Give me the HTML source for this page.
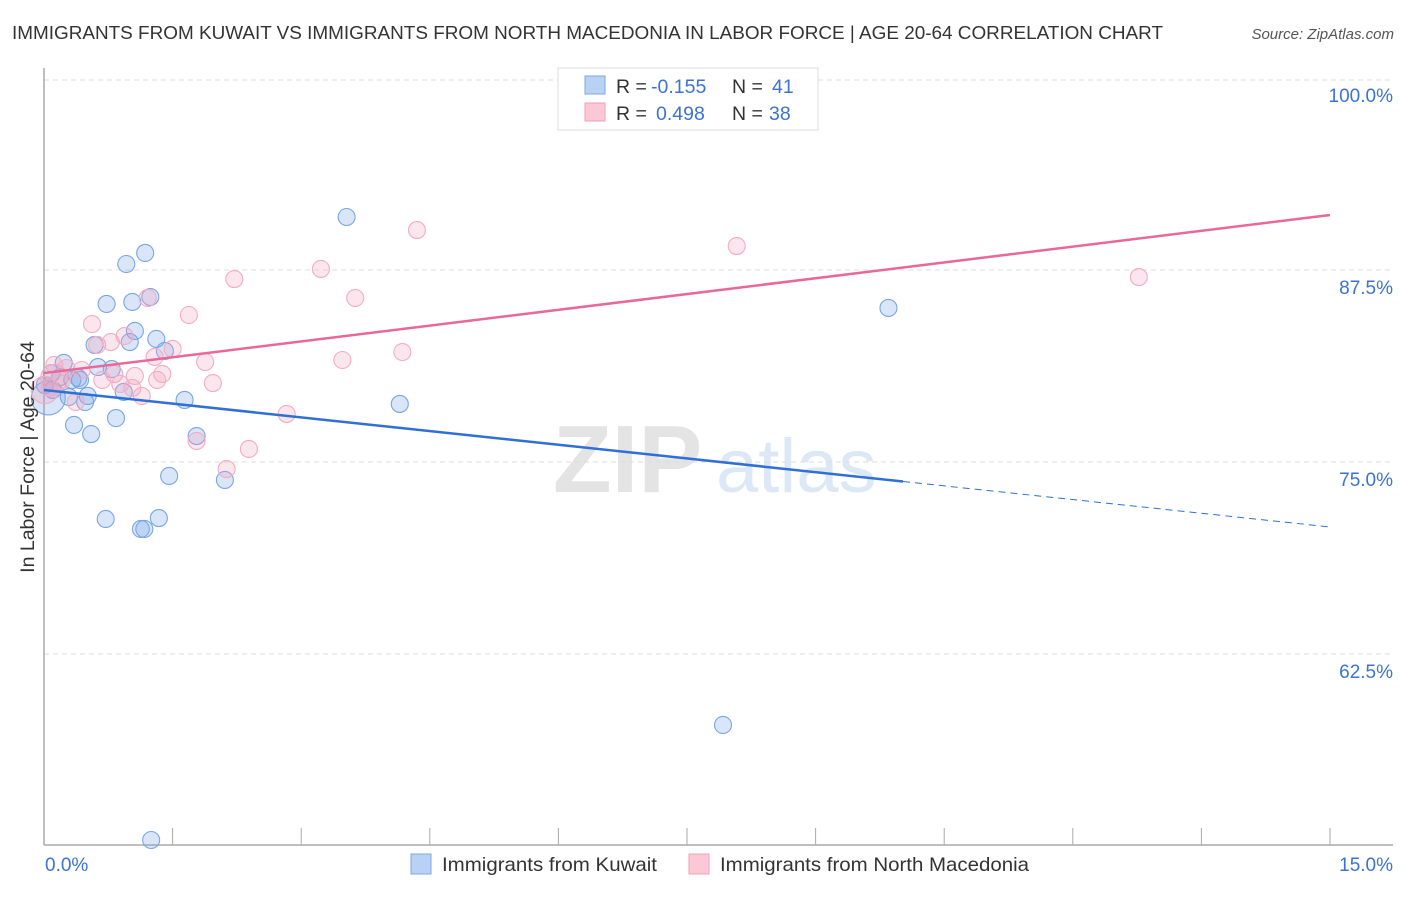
<!DOCTYPE html>
<html><head><meta charset="utf-8"><style>
body{margin:0;background:#fff;font-family:"Liberation Sans",sans-serif}
svg text{font-family:"Liberation Sans",sans-serif}
</style></head><body>
<svg id="chart" width="1406" height="892" viewBox="0 0 1406 892" xmlns="http://www.w3.org/2000/svg">
<text x="12" y="39" font-size="18.9" fill="#333" textLength="1151" lengthAdjust="spacingAndGlyphs">IMMIGRANTS FROM KUWAIT VS IMMIGRANTS FROM NORTH MACEDONIA IN LABOR FORCE | AGE 20-64 CORRELATION CHART</text>
<text x="1394" y="39" font-size="15" fill="#555" text-anchor="end" font-style="italic">Source: ZipAtlas.com</text>
<g>
<text x="553" y="492" font-size="96" fill="#e4e4e4" font-family="Liberation Serif" font-weight="bold">ZIP</text>
<text x="716" y="492" font-size="76" fill="#dce8f6">atlas</text>
</g>
<g id="grid"></g>
<g id="axes"></g>
<g id="pts"></g>
<g id="lines"></g>
<text transform="translate(34,457) rotate(-90)" font-size="19.5" fill="#333" text-anchor="middle">In Labor Force | Age 20-64</text>
<g>
<rect x="558" y="68" width="260" height="62" fill="#fff" stroke="#ddd"/>
<rect x="585" y="76" width="20" height="18" fill="#b8d2f4" stroke="#7aa8e4"/>
<rect x="585" y="103" width="20" height="18" fill="#fcc8d6" stroke="#f0a0b8"/>
<text x="616" y="93" font-size="19.5" fill="#333">R =</text>
<text x="651" y="93" font-size="19.5" fill="#3b73d4">-0.155</text>
<text x="732" y="93" font-size="19.5" fill="#333">N =</text>
<text x="772" y="93" font-size="19.5" fill="#3b73d4">41</text>
<text x="616" y="120" font-size="19.5" fill="#333">R =</text>
<text x="656" y="120" font-size="19.5" fill="#3b73d4">0.498</text>
<text x="732" y="120" font-size="19.5" fill="#333">N =</text>
<text x="769" y="120" font-size="19.5" fill="#3b73d4">38</text>
</g>
<g>
<rect x="411" y="854" width="20" height="20" fill="#b8d2f4" stroke="#7aa8e4"/>
<text x="442" y="871" font-size="19.5" fill="#333" textLength="215" lengthAdjust="spacingAndGlyphs">Immigrants from Kuwait</text>
<rect x="689" y="854" width="20" height="20" fill="#fcc8d6" stroke="#f0a0b8"/>
<text x="720" y="871" font-size="19.5" fill="#333" textLength="309" lengthAdjust="spacingAndGlyphs">Immigrants from North Macedonia</text>
</g>
</svg>
<script>
const xTicks=[0,1.5,3,4.5,6,7.5,9,10.5,12,13.5,15];
const yTicks=[62.5,75,87.5,100];
const yTickLabels=["62.5%","75.0%","87.5%","100.0%"];
const xEndLabels=["0.0%","15.0%"];
const kuwaitX=[3.53,1.18,0.96,0.73,1.03,1.24,9.85,1.06,1.31,0.59,1.00,1.41,0.23,0.63,0.79,0.09,0.19,0.40,0.33,0.01,0.10,0.93,0.29,0.51,0.48,1.64,4.15,0.84,0.35,0.55,1.78,1.46,2.11,0.72,1.34,1.13,1.17,7.92,1.25,0.05,0.42];
const kuwaitY=[90.95,88.61,87.89,85.29,85.42,85.74,85.03,83.53,83.01,82.62,82.81,82.23,81.45,81.18,81.05,80.79,80.53,80.47,80.34,80.01,79.69,79.56,79.23,79.30,78.91,79.04,78.78,77.86,77.41,76.82,76.69,74.09,73.83,71.29,71.35,70.64,70.64,57.88,50.39,79.17,80.34];
const kuwaitSize=[1,1,1,1,1,1,1,1,1,1,1,1,1,1,1,1,1,1,1,1,1,1,1,1,1,1,1,1,1,1,1,1,1,1,1,1,1,1,1,2,1];
const macX=[4.35,8.08,12.77,3.23,2.22,3.63,1.21,1.69,0.56,0.62,0.94,0.78,1.50,4.18,3.48,1.29,1.88,0.12,0.26,0.44,0.82,1.06,1.38,0.68,1.32,0.89,1.97,0.07,1.03,1.14,0.37,2.83,1.78,2.39,2.13,0.12,0.01,0.21];
const macY=[90.10,89.06,87.04,87.57,86.91,85.68,85.68,84.57,83.98,82.62,83.20,82.81,82.36,82.16,81.64,81.84,81.51,81.32,81.12,80.99,80.73,80.60,80.73,80.34,80.34,80.08,80.14,79.82,79.82,79.30,78.91,78.13,76.37,75.85,74.54,80.47,79.69,80.34];
const macSize=[1,1,1,1,1,1,1,1,1,1,1,1,1,1,1,1,1,1,1,1,1,1,1,1,1,1,1,1,1,1,1,1,1,1,1,1.6,1.6,1];
const kuwaitTrend=[79.69,70.77];
const kuwaitSolidEnd=10.02;
const macTrend=[80.79,91.08];

const NS="http://www.w3.org/2000/svg";
const X=v=>44+v/15*1286;
const Y=v=>78+(100-v)*15.36;
function mk(tag,attrs,parent){const e=document.createElementNS(NS,tag);for(const k in attrs)e.setAttribute(k,attrs[k]);parent.appendChild(e);return e;}
const grid=document.getElementById('grid'),axes=document.getElementById('axes'),pts=document.getElementById('pts'),lines=document.getElementById('lines');
yTicks.forEach((t,i)=>{
  const l=mk('line',{x1:44,x2:1393,y1:Y(t)+(t===100?2:0),y2:Y(t)+(t===100?2:0),stroke:'#ddd','stroke-dasharray':'5,4'},grid);
  
  
  const tx=mk('text',{x:1393,y:Y(t)+24,'font-size':19,fill:'#3b73d4','text-anchor':'end'},axes);
  tx.textContent=yTickLabels[i];
  
  
});
let a=mk('line',{x1:44,x2:44,y1:68,y2:845,stroke:'#aaa','stroke-width':1.5},axes);


a=mk('line',{x1:44,x2:1393,y1:845,y2:845,stroke:'#aaa','stroke-width':1.5},axes);


xTicks.forEach(t=>{
  const l=mk('line',{x1:X(t),x2:X(t),y1:828,y2:845,stroke:'#aaa'},axes);
  
  
});
[['start',45],['end',1393]].forEach(([anc,px],i)=>{
  const tx=mk('text',{x:px,y:871,'font-size':19,fill:'#3b73d4','text-anchor':anc},axes);
  tx.textContent=xEndLabels[i];
  
  
});
function dots(xs,ys,ss,fill,stroke,name){
  xs.forEach((v,i)=>{
    const c=mk('circle',{cx:X(v),cy:Y(ys[i]),r:8.5*ss[i],fill:fill,stroke:stroke,'stroke-width':1.1},pts);
    
    
  });
}
dots(kuwaitX,kuwaitY,kuwaitSize,'rgba(120,165,235,0.28)','#7aa6e4','kuwait-point');
dots(macX,macY,macSize,'rgba(245,160,185,0.26)','#f2adc2','north-macedonia-point');
const kAt=v=>kuwaitTrend[0]+(kuwaitTrend[1]-kuwaitTrend[0])*v/15;
let ln=mk('line',{x1:X(0),y1:Y(kAt(0)),x2:X(kuwaitSolidEnd),y2:Y(kAt(kuwaitSolidEnd)),stroke:'#2f6fd6','stroke-width':2.5},lines);


ln=mk('line',{x1:X(kuwaitSolidEnd),y1:Y(kAt(kuwaitSolidEnd)),x2:X(15),y2:Y(kAt(15)),stroke:'#2f6fd6','stroke-width':1,'stroke-dasharray':'7,5'},lines);


ln=mk('line',{x1:X(0),y1:Y(macTrend[0]),x2:X(15),y2:Y(macTrend[1]),stroke:'#e8689a','stroke-width':2.5},lines);


</script>
</body></html>
